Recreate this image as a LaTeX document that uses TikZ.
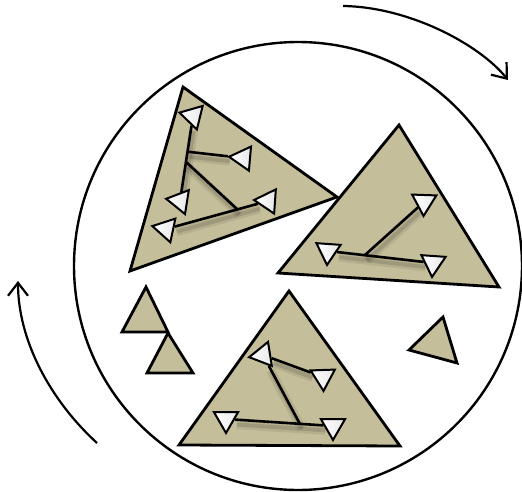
\documentclass[tikz,border=0pt]{standalone}
\usetikzlibrary{calc, positioning}
\usetikzlibrary{arrows.meta}
\usetikzlibrary{shapes.geometric}

\definecolor{sand}{RGB}{197,190,155}
\pgfdeclarelayer{back}
\pgfdeclarelayer{links}
\pgfsetlayers{back,links,main}

\begin{document}
\begin{tikzpicture}[x=1pt, y=-1pt,
  piece/.style={draw, fill=sand, line width=2.8pt},
  leaf/.style={regular polygon, regular polygon sides=3, draw, line width=2pt,
    minimum size=28pt, inner sep=0pt, left color=white, middle color=white, right color=black!9},
  link/.style={line width=2.6pt,
    preaction={draw=black, opacity=.08, line width=9pt, transform canvas={shift={(2pt,-5pt)}}},
    preaction={draw=black, opacity=.12, line width=4pt, transform canvas={shift={(2pt,-5pt)}}}},
  turn/.style={line width=2.2pt, -{Straight Barb[length=13pt,width=20pt]}}]
\useasboundingbox (0,0) rectangle (522,492);

\begin{pgfonlayer}{back}
% outer ring and the two turning arrows
\draw[line width=2.4pt] (298,266) circle[radius=224];
\draw[turn] (343,6) .. controls (410,7) and (480,45) .. (508,80);
\draw[turn] (97,443) .. controls (50,400) and (18,340) .. (18,281);

% big pieces
\draw[piece] (183,87) -- (337,197) -- (130,271) -- cycle;
\draw[piece] (399,125) -- (499,287) -- (278,273) -- cycle;
\draw[piece] (289,291) -- (400,446) -- (179,445) -- cycle;

% small pieces
\draw[piece] (146,287) -- (168,332) -- (122,332) -- cycle;
\draw[piece] (168,333) -- (193,373) -- (147,373) -- cycle;
\draw[piece] (443,317) -- (457,363) -- (409,350) -- cycle;
\end{pgfonlayer}

% leaves
\foreach \name/\pos/\rot in {n1a/{(193,116)}/76, n1b/{(180,201)}/81, n1c/{(243,158)}/85,
    n1d/{(166,229)}/78, n1e/{(268,201)}/86,
    n2a/{(424,202)}/178, n2b/{(328,251)}/176, n2c/{(433,263)}/176,
    n3a/{(263,355)}/99, n3b/{(323,377)}/182, n3c/{(226,419)}/180, n3d/{(333,426)}/180}{
  \node[leaf, rotate=\rot] (\name) at \pos {};
}

\coordinate (j1) at ($(n1a)!0.42!(n1b)$);
\coordinate (j2) at ($(n1a)!0.54!(n1b)$);
\coordinate (j3) at ($(n1d)!0.70!(n1e)$);
\coordinate (j4) at ($(n2b)!0.35!(n2c)$);
\coordinate (j5) at ($(n3c)!0.69!(n3d)$);

\begin{pgfonlayer}{links}
\draw[link] (n1a) -- (n1b);
\draw[link] (j1) -- (n1c);
\draw[link] (n1d) -- (n1e);
\draw[link] (j2) -- (j3);

\draw[link] (n2b) -- (n2c);
\draw[link] (j4) -- (n2a);

\draw[link] (n3a) -- (n3b);
\draw[link] (n3c) -- (n3d);
\draw[link] (n3a) -- (j5);
\end{pgfonlayer}
\end{tikzpicture}
\end{document}
